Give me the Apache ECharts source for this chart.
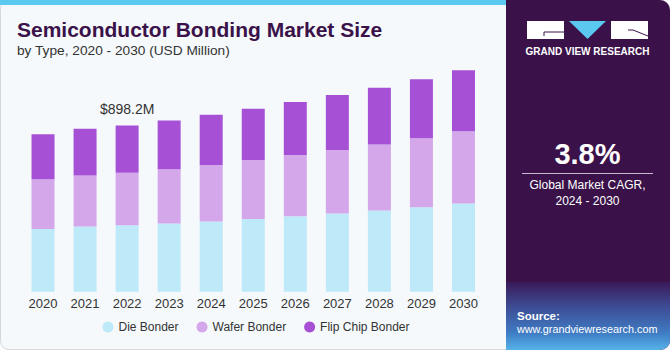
<!DOCTYPE html>
<html>
<head>
<meta charset="utf-8">
<script src="https://cdn.jsdelivr.net/npm/echarts@6/dist/echarts.min.js"></script>
<style>
  html, body { margin: 0; padding: 0; background: #fff; }
  #chart { width: 670px; height: 350px; }
</style>
</head>
<body>
<div id="chart"></div>
<script>
// values (USD Million)
const years = ['2020', '2021', '2022', '2023', '2024', '2025', '2026', '2027', '2028', '2029', '2030']
const dieBonder = [339, 352, 359, 368, 379, 393, 408, 422, 438, 456, 476]
const waferBonder = [268, 275, 284, 294, 305, 318, 330, 343, 357, 373, 391]
const flipChipBonder = [243, 253, 255, 262, 272, 277, 286, 298, 307, 318, 329]
const seriesNames = ['Die Bonder', 'Wafer Bonder', 'Flip Chip Bonder']
const seriesColors = ['#bde9f8', '#d4a6ea', '#a650d6']
const totalLabelIndex = 2
const totalLabelText = '$898.2M'

const PANEL = '#3a1249'

const chart = echarts.init(document.getElementById('chart'), null, { renderer: 'svg' })

function stack(name, data, color, withLabel) {
  return {
    name,
    type: 'bar',
    stack: 'total',
    barWidth: 23,
    itemStyle: { color },
    data: data.map((v, i) => {
      if (withLabel && i === totalLabelIndex) {
        return {
          value: v,
          label: {
            show: true,
            position: 'top',
            distance: 9,
            formatter: totalLabelText,
            color: '#333',
            fontSize: 14,
            fontFamily: 'Liberation Sans',
          },
        }
      }
      return v
    }),
  }
}

chart.setOption({
  backgroundColor: '#fff',
  animation: false,
  graphic: [
    // card background + frame
    { type: 'rect', z: -10, shape: { x: 0.5, y: 0.5, width: 669, height: 349, r: 8 },
      style: { fill: '#f5f9fc', stroke: '#d4d8dc', lineWidth: 1 } },
    { type: 'rect', z: -9, shape: { x: 0, y: 0, width: 506, height: 5 }, style: { fill: '#5bc8f0' } },
    // right panel
    { type: 'rect', z: -9, shape: { x: 506, y: 0, width: 164, height: 350, r: [0, 10, 10, 0] },
      style: { fill: PANEL } },
    { type: 'rect', z: -8, shape: { x: 506, y: 282, width: 164, height: 68, r: [0, 0, 10, 0] },
      style: { fill: { type: 'linear', x: 0, y: 0, x2: 0, y2: 1, colorStops: [
        { offset: 0, color: '#3a1a5a' }, { offset: 0.35, color: '#3d4a92' },
        { offset: 0.75, color: '#3f7cc4' }, { offset: 1, color: '#55b3e8' }] } } },
    // logo
    { type: 'rect', shape: { x: 527, y: 21, width: 37, height: 18 }, style: { fill: '#fff' } },
    { type: 'polyline', shape: { points: [[564, 32], [544, 32], [544, 36]] },
      style: { stroke: PANEL, lineWidth: 1, fill: null } },
    { type: 'polygon', shape: { points: [[569, 21], [606, 21], [587.5, 39]] }, style: { fill: '#5bc8f0' } },
    { type: 'rect', shape: { x: 611, y: 21, width: 37, height: 18 }, style: { fill: '#fff' } },
    { type: 'polyline', shape: { points: [[648, 36], [633, 30], [628, 30]] },
      style: { stroke: PANEL, lineWidth: 1, fill: null } },
    { type: 'text', style: { x: 587.5, y: 51, text: 'GRAND VIEW RESEARCH', fill: '#fff',
      font: 'bold 10px "Liberation Sans"', textAlign: 'center', textVerticalAlign: 'middle' } },
    // CAGR
    { type: 'text', style: { x: 587.5, y: 154, text: '3.8%', fill: '#fff',
      font: 'bold 29px "Liberation Sans"', textAlign: 'center', textVerticalAlign: 'middle' } },
    { type: 'line', shape: { x1: 522, y1: 173.5, x2: 653, y2: 173.5 }, style: { stroke: '#c9b8d2', lineWidth: 1 } },
    { type: 'text', style: { x: 587.5, y: 185, text: 'Global Market CAGR,', fill: '#fff',
      font: '12px "Liberation Sans"', textAlign: 'center', textVerticalAlign: 'middle' } },
    { type: 'text', style: { x: 587.5, y: 201, text: '2024 - 2030', fill: '#fff',
      font: '12px "Liberation Sans"', textAlign: 'center', textVerticalAlign: 'middle' } },
    // source
    { type: 'text', style: { x: 517, y: 316, text: 'Source:', fill: '#fff',
      font: 'bold 11.5px "Liberation Sans"', textVerticalAlign: 'middle' } },
    { type: 'text', style: { x: 517, y: 329, text: 'www.grandviewresearch.com', fill: '#fff',
      font: '10.8px "Liberation Sans"', textVerticalAlign: 'middle' } },
    // titles
    { type: 'text', style: { x: 17, y: 29, text: 'Semiconductor Bonding Market Size', fill: PANEL,
      font: '900 21px "Liberation Sans"', textVerticalAlign: 'middle' } },
    { type: 'text', style: { x: 17, y: 50, text: 'by Type, 2020 - 2030 (USD Million)', fill: '#333',
      font: '13.7px "Liberation Sans"', textVerticalAlign: 'middle' } },
  ],
  grid: { left: 22, right: 185.5, top: 51, bottom: 58.3 },
  legend: {
    left: 97.5,
    top: 316,
    icon: 'circle',
    itemWidth: 11,
    itemHeight: 11,
    itemGap: 18,
    textStyle: { color: '#333', fontSize: 12, fontFamily: 'Liberation Sans' },
    data: seriesNames,
  },
  xAxis: {
    type: 'category',
    data: years,
    axisLine: { show: false },
    axisTick: { show: false },
    axisLabel: { color: '#333', fontSize: 13, fontFamily: 'Liberation Sans', margin: 5 },
  },
  yAxis: { type: 'value', min: 0, max: 1300, show: false, splitLine: { show: false } },
  series: [
    stack(seriesNames[0], dieBonder, seriesColors[0], false),
    stack(seriesNames[1], waferBonder, seriesColors[1], false),
    stack(seriesNames[2], flipChipBonder, seriesColors[2], true),
  ],
})
</script>
</body>
</html>
